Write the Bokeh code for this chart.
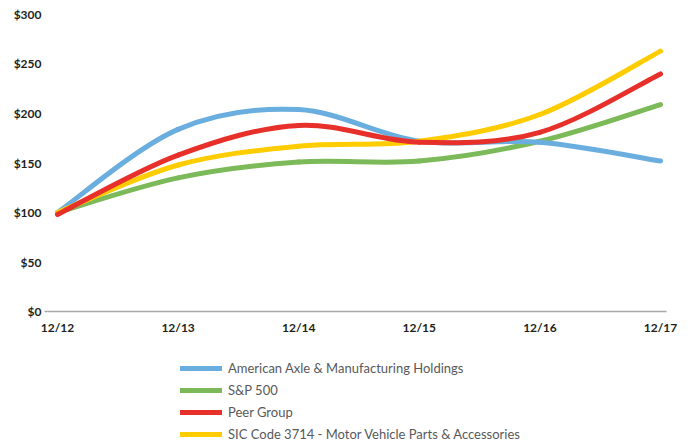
from bokeh.plotting import figure
from bokeh.models import Range1d, FixedTicker, Legend, LegendItem, ColumnDataSource
from bokeh.embed import file_html
from bokeh.resources import INLINE

# ---- data ----
periods = ["12/12", "12/13", "12/14", "12/15", "12/16", "12/17"]
american_axle = [100, 184, 204, 172, 171, 152]
sp500 = [100, 135, 151, 152, 172, 209]
peer_group = [98, 158, 188, 171, 181, 240]
sic_3714 = [100, 148, 167, 172, 199, 263]
y_ticks = [0, 50, 100, 150, 200, 250, 300]

series_names = [
    "American Axle & Manufacturing Holdings",
    "S&P 500",
    "Peer Group",
    "SIC Code 3714 - Motor Vehicle Parts & Accessories",
]
series_values = [american_axle, sp500, peer_group, sic_3714]
series_colors = ["#6aaedf", "#7cba59", "#e8302a", "#ffcc00"]


def smooth_segments(ys):
    """Cubic Bezier segments through the data points (Excel-style smoothed line)."""
    n = len(ys)
    xs = list(range(n))
    d = dict(x0=[], y0=[], x1=[], y1=[], cx0=[], cy0=[], cx1=[], cy1=[])
    for i in range(n - 1):
        a, b = max(i - 1, 0), min(i + 2, n - 1)
        d["x0"].append(xs[i]); d["y0"].append(ys[i])
        d["x1"].append(xs[i + 1]); d["y1"].append(ys[i + 1])
        d["cx0"].append(xs[i] + (xs[i + 1] - xs[a]) / 6.0)
        d["cy0"].append(ys[i] + (ys[i + 1] - ys[a]) / 6.0)
        d["cx1"].append(xs[i + 1] - (xs[b] - xs[i]) / 6.0)
        d["cy1"].append(ys[i + 1] - (ys[b] - ys[i]) / 6.0)
    return d


# plot area covers the whole canvas; the axes are pinned inside it
X0, X1 = -0.4726, 5.166
Y0, Y1 = -134.34, 314.14
AXIS_X_START, AXIS_X_END = -0.108, 5.05

p = figure(
    frame_width=680, frame_height=444,
    x_range=Range1d(X0, X1), y_range=Range1d(Y0, Y1),
    output_backend="svg", toolbar_location=None,
    min_border_left=0, min_border_right=0, min_border_top=0, min_border_bottom=0,
)
p.outline_line_color = None
p.xgrid.visible = False
p.ygrid.visible = False
p.background_fill_color = "white"

renderers = {}
draw_order = [1, 0, 3, 2]  # green, blue, yellow, red (red on top)
for idx in draw_order:
    src = ColumnDataSource(smooth_segments(series_values[idx]))
    r = p.bezier(x0="x0", y0="y0", x1="x1", y1="y1", cx0="cx0", cy0="cy0",
                 cx1="cx1", cy1="cy1", source=src,
                 line_color=series_colors[idx], line_width=5, line_cap="round")
    renderers[idx] = r

# x axis, drawn at y = 0
xa = p.xaxis[0]
xa.fixed_location = 0
xa.bounds = (AXIS_X_START, AXIS_X_END)
xa.ticker = FixedTicker(ticks=list(range(len(periods))))
xa.major_label_overrides = {i: lab for i, lab in enumerate(periods)}
xa.axis_line_color = "#a7a9ac"
xa.axis_line_width = 1.5
xa.major_tick_line_color = None
xa.minor_tick_line_color = None
xa.major_tick_out = 0
xa.major_label_standoff = 8
xa.major_label_text_font = "Lato"
xa.major_label_text_font_style = "bold"
xa.major_label_text_font_size = "12px"
xa.major_label_text_color = "#231f20"

# y axis, drawn at the left end of the baseline
ya = p.yaxis[0]
ya.fixed_location = AXIS_X_START
ya.ticker = FixedTicker(ticks=y_ticks)
ya.major_label_overrides = {v: "${}".format(v) for v in y_ticks}
ya.axis_line_color = None
ya.major_tick_line_color = None
ya.minor_tick_line_color = None
ya.major_tick_out = 0
ya.major_label_standoff = 3
ya.major_label_text_font = "Lato"
ya.major_label_text_font_style = "bold"
ya.major_label_text_font_size = "12px"
ya.major_label_text_color = "#231f20"

legend = Legend(
    items=[LegendItem(label=series_names[i], renderers=[renderers[i]]) for i in range(4)],
    location=(180, 0),
    orientation="vertical",
    margin=0, padding=0, spacing=2,
    label_height=20, glyph_height=20, glyph_width=42, label_standoff=6,
    label_text_font="Lato", label_text_font_size="13px", label_text_color="#58595b",
    border_line_color=None, background_fill_alpha=0,
)
p.add_layout(legend)

open("out.html", "w").write(file_html(p, INLINE))
